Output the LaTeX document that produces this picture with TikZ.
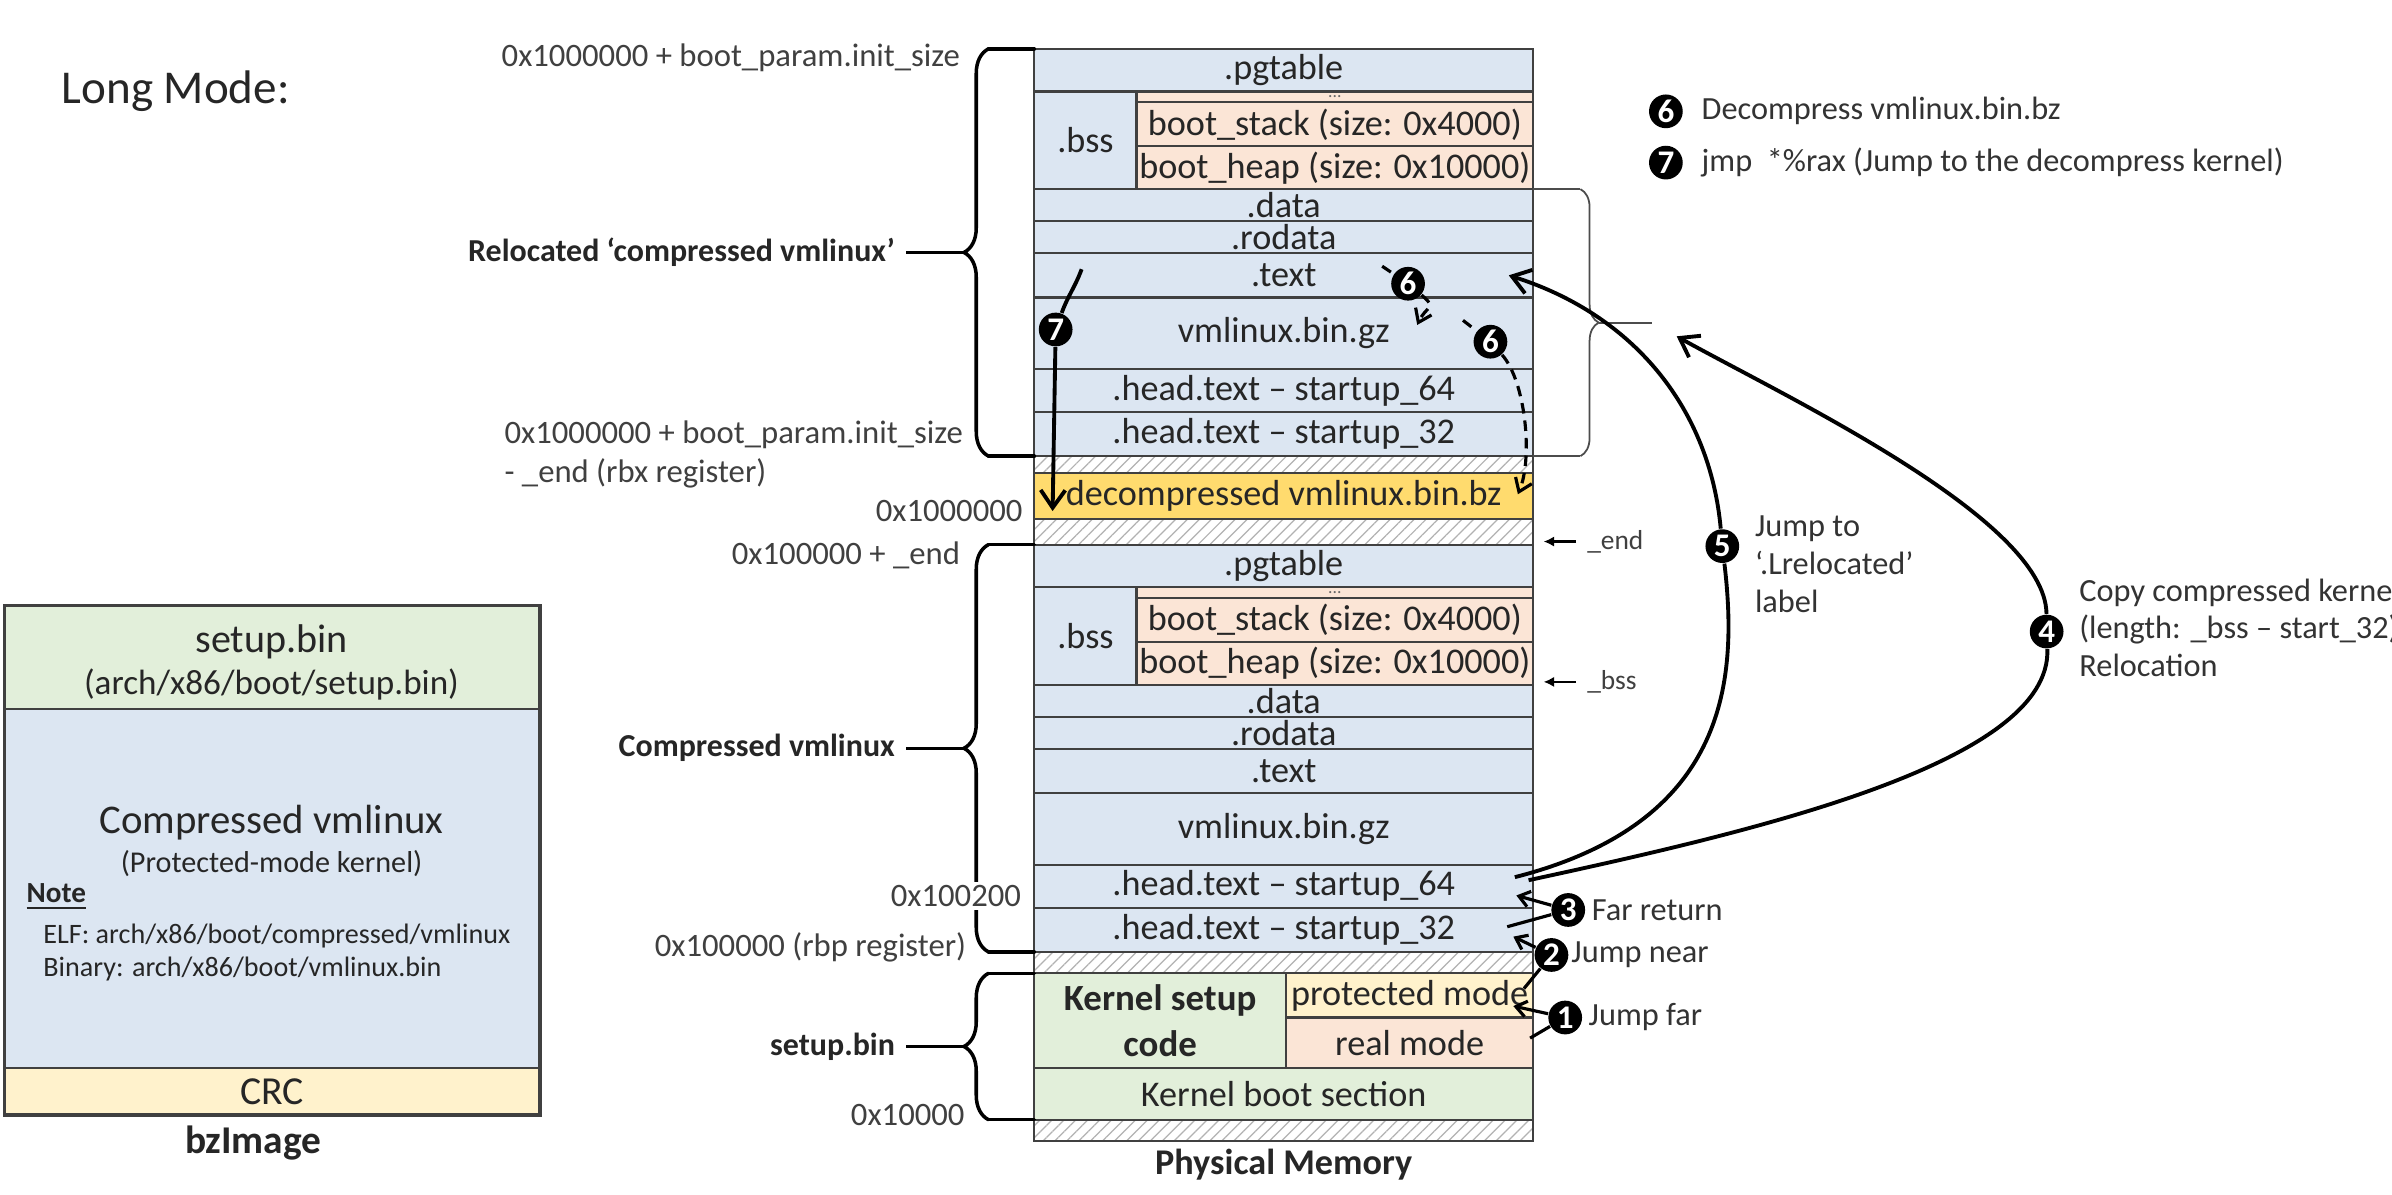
\documentclass[tikz,border=0pt]{standalone}
\usepackage{fontspec}
\setmainfont{Carlito}
\usepackage{tikz}
\usetikzlibrary{positioning,arrows.meta,calc,decorations.pathreplacing,patterns,patterns.meta}

\definecolor{memblue}{RGB}{220,230,242}
\definecolor{mempeach}{RGB}{251,229,214}
\definecolor{memgreen}{RGB}{226,239,218}
\definecolor{memyellow}{RGB}{255,242,204}
\definecolor{decomp}{RGB}{255,219,110}

\newcommand{\fsz}[2]{\fontsize{#1}{#2}\selectfont}
% memory cell: name, x0, y0, x1, y1, style, text
\newcommand{\memcell}[7]{\node[cell, #6, minimum width={((#4)-(#2))*0.015255cm}, minimum height={((#5)-(#3))*0.015255cm}] (#1) at (#2,{#3}) {#7};}

\begin{document}
\begin{tikzpicture}[x=0.015255cm, y=-0.015255cm,
  cell/.style={draw=black!75, line width=0.6pt, inner sep=0pt, outer sep=0pt, anchor=north west, align=center, text=black!85, font=\fsz{10.3}{12.5}},
  hatch/.style={pattern={Lines[angle=45,distance=2.4pt,line width=0.35pt]}, pattern color=black!30},
  addr/.style={anchor=east, inner sep=1pt, text=black!75, font=\fsz{9.3}{11.1}},
  part/.style={anchor=east, inner sep=3pt, text=black!85, font=\bfseries\fsz{9.1}{11}},
  note/.style={inner sep=0pt, align=left, text=black!80, font=\fsz{9.2}{10.8}},
  txt/.style={inner sep=0pt, text=black!85},
  num/.style={circle, fill=black, text=white, inner sep=0pt, minimum size=9.6pt, font=\bfseries\fsz{9.4}{10}},
  brc/.style={decorate, decoration={brace, amplitude=7pt}, line width=1pt, line cap=round},
  arr/.style={line width=1.1pt, -{Straight Barb[length=5pt,width=7pt]}},
  darr/.style={line width=0.9pt, dash pattern=on 3pt off 2pt, -{Straight Barb[length=3.5pt,width=5pt]}},
  sarr/.style={line width=0.9pt, -{Straight Barb[length=3pt,width=4.5pt]}},
  mk/.style={line width=0.6pt, -{Latex[length=3pt,width=3pt]}}]

\fill[white] (0,0) rectangle (1568,782.7);
\useasboundingbox (0,0) rectangle (1568,782.7);

\node[txt, anchor=west, font=\fsz{13.4}{16}] (title) at (40,60) {Long Mode:};

% bzImage
\memcell{bz-setup}{3}{397}{354}{465}{fill=memgreen}{}
\memcell{bz-vm}{3}{465}{354}{700}{fill=memblue}{}
\memcell{bz-crc}{3}{700}{354}{731}{fill=memyellow, font=\fsz{11.3}{13}}{CRC}
\draw[line width=1pt, black!75] (bz-setup.north west) rectangle (bz-crc.south east);
\node[txt, font=\fsz{11.4}{13}] (bz-t1) at (178,421) {setup.bin};
\node[txt, font=\fsz{10}{12}] (bz-t2) at (178,448.6) {(arch/x86/boot/setup.bin)};
\node[txt, font=\fsz{11.6}{14}] (bz-t3) at (178,539.5) {Compressed vmlinux};
\node[txt, font=\fsz{8.6}{10}] (bz-t4) at (178,566) {(Protected-mode kernel)};
\node[txt, anchor=west, font=\bfseries\fsz{8.3}{10}] (bz-note) at (17,588) {\underline{Note}};
\node[txt, anchor=west, font=\fsz{8}{10}] (bz-elf) at (28,613.5) {ELF: arch/x86/boot/compressed/vmlinux};
\node[txt, anchor=west, font=\fsz{8}{10}] (bz-bin) at (28,635) {Binary: arch/x86/boot/vmlinux.bin};
\node[txt, font=\bfseries\fsz{11.2}{13}] (bz-lbl) at (166,749) {bzImage};

% physical memory, both copies of compressed vmlinux
\foreach \o/\p in {0/u,325/l}{
  \memcell{\p-pg}{678}{32+\o}{1005}{60+\o}{fill=memblue}{.pgtable}
  \memcell{\p-bss}{678}{60+\o}{745}{124+\o}{fill=memblue}{.bss}
  \memcell{\p-dots}{745}{60+\o}{1005}{67+\o}{fill=mempeach, text=black!60, font=\fsz{5}{5}}{...}
  \memcell{\p-stack}{745}{67+\o}{1005}{96+\o}{fill=mempeach}{boot\_stack (size: 0x4000)}
  \memcell{\p-heap}{745}{96+\o}{1005}{124+\o}{fill=mempeach}{boot\_heap (size: 0x10000)}
  \memcell{\p-data}{678}{124+\o}{1005}{145+\o}{fill=memblue}{.data}
  \memcell{\p-rod}{678}{145+\o}{1005}{166+\o}{fill=memblue}{.rodata}
  \memcell{\p-text}{678}{166+\o}{1005}{195+\o}{fill=memblue}{.text}
  \memcell{\p-gz}{678}{195+\o}{1005}{242+\o}{fill=memblue}{vmlinux.bin.gz}
  \memcell{\p-s64}{678}{242+\o}{1005}{270+\o}{fill=memblue}{.head.text – startup\_64}
  \memcell{\p-s32}{678}{270+\o}{1005}{299+\o}{fill=memblue}{.head.text – startup\_32}
}
\memcell{h1}{678}{299}{1005}{310}{hatch}{}
\memcell{dec}{678}{310}{1005}{340}{fill=decomp}{decompressed vmlinux.bin.bz}
\memcell{h2}{678}{340}{1005}{357}{hatch}{}
\memcell{h3}{678}{624}{1005}{638}{hatch}{}
\memcell{ksetup}{678}{638}{843}{700}{fill=memgreen, font=\bfseries\fsz{10.5}{13}}{Kernel setup\\code}
\memcell{prot}{843}{638}{1005}{667}{fill=memyellow}{protected mode}
\memcell{real}{843}{667}{1005}{700}{fill=mempeach}{real mode}
\memcell{kboot}{678}{700}{1005}{734}{fill=memgreen}{Kernel boot section}
\memcell{h4}{678}{734}{1005}{748}{hatch}{}
\node[txt, below=2pt of h4, font=\bfseries\fsz{10.3}{12}] (physlbl) {Physical Memory};

% braces on the left
\foreach \ta/\tb/\nm/\txt in {u-pg/u-s32/reloc/{Relocated ‘compressed vmlinux’}, l-pg/l-s32/compv/{Compressed vmlinux}, ksetup/kboot/setupbin/{setup.bin}}{
  \draw[line width=1pt, line cap=round] (\ta.north west) -- ++(-30,0) coordinate (\nm-top);
  \draw[line width=1pt, line cap=round] (\tb.south west) -- ++(-30,0) coordinate (\nm-bot);
  \draw[brc] (\nm-bot) -- (\nm-top);
  \coordinate (\nm-tip) at ($(\nm-top)!0.5!(\nm-bot)+(-16,0)$);
  \node[part] (\nm) at ($(\nm-tip)+(-38,0)$) {\txt};
  \draw[line width=1pt] (\nm) -- (\nm-tip);
}

% thin bracket on the right
\draw[line width=0.5pt, black!70] (u-data.north east) -- ++(31,0) coordinate (rb-top);
\draw[line width=0.5pt, black!70] (u-s32.south east) -- ++(31,0) coordinate (rb-bot);
\draw[line width=0.5pt, black!70, decorate, decoration={brace, amplitude=5.2pt}] (rb-top) -- (rb-bot);
\coordinate (rb-tip) at ($(rb-top)!0.5!(rb-bot)+(12,0)$);
\draw[line width=0.5pt, black!70] (rb-tip) -- ++(35,0) coordinate (rb-end);

% addresses
\node[addr] (a1) at (632,38) {0x1000000 + boot\_param.init\_size};
\node[addr, anchor=west, align=left] (a2) at (328,298) {0x1000000 + boot\_param.init\_size\\- \_end (rbx register)};
\node[addr] (a3) at (673,335) {0x1000000};
\node[addr] (a4) at (632,364) {0x100000 + \_end};
\node[addr, fill=white] (a5) at (672,587.5) {0x100200};
\node[addr] (a6) at (636,621) {0x100000 (rbp register)};
\node[addr] (a7) at (635,731) {0x10000};

% symbols
\node[txt, anchor=west, text=black!75, font=\fsz{7.8}{9}] (endmk) at (1040,355) {\_end};
\node[txt, anchor=west, text=black!75, font=\fsz{7.8}{9}] (bssmk) at (1040,447) {\_bss};
\draw[mk] ([xshift=-3pt]endmk.west) -- ([xshift=3pt]endmk.west -| l-pg.east);
\draw[mk] ([xshift=-3pt]bssmk.west) -- ([xshift=3pt]bssmk.west -| l-heap.east);

% step numbers
\node[num] (n1) at (1026,667) {1};
\node[num] (n2) at (1017,626) {2};
\node[num] (n3) at (1028,596.5) {3};
\node[num] (n4) at (1341.6,414) {4};
\node[num] (n5) at (1129,358) {5};
\node[num] (n6a) at (923,186) {6};
\node[num] (n6b) at (977,224) {6};
\node[num] (n7) at (692,216) {7};
\node[num] (lg6) at (1092,73) {6};
\node[num] (lg7) at (1092,106.6) {7};

\node[note, right=5pt of lg6] (lg6t) {Decompress vmlinux.bin.bz};
\node[note, right=5pt of lg7] (lg7t) {jmp\ \ *\%rax (Jump to the decompress kernel)};
\node[note, anchor=west, font=\fsz{9.2}{10.9}] (t5) at (1150,370) {Jump to\\‘.Lrelocated’\\label};
\node[note, anchor=west, font=\fsz{9.2}{10.7}] (t4) at (1362.6,411.5) {Copy compressed kernel\\(length: \_bss – start\_32)\\Relocation};
\node[note, right=1.5pt of n3] (t3) {Far return};
\node[note, right=0.5pt of n2] (t2) {Jump near};
\node[note, right=1.5pt of n1] (t1) {Jump far};

% jumps
\coordinate (s1) at ($(real.east)+(-2,-3)$);
\coordinate (e1) at ($(prot.east)+(-13,7)$);
\draw[sarr] (s1) -- (n1) -- (e1);
\coordinate (s2) at ($(prot.north east)+(-6,10)$);
\coordinate (e2) at ($(l-s32.east)+(-13,4.5)$);
\draw[sarr] (s2) -- (n2) -- (e2);
\coordinate (s3) at ($(l-s32.east)+(-17,-2)$);
\coordinate (e3) at ($(l-s64.east)+(-11,6)$);
\draw[sarr] (s3) -- (n3) -- (e3);

\coordinate (s4) at ($(l-s64.east)+(-3,-4)$);
\draw[arr, shorten >=8pt] (s4) .. controls (1150,545) and (1345,500) .. (n4) .. controls (1341,340) and (1170,260) .. (rb-end);
\coordinate (s5) at ($(l-s64.east)+(-12,-6)$);
\coordinate (e5) at ($(u-text.east)+(-16,0)$);
\draw[arr] (s5) .. controls (1130,540) and (1140,450) .. (n5) .. controls (1121,270) and (1073,207) .. (e5);

\coordinate (s6a) at ($(u-text.east)+(-99,-6)$);
\coordinate (e6a) at ($(u-gz.north east)+(-76,18)$);
\draw[darr] (s6a) -- (n6a) to[out=-40, in=65, looseness=1.8] (e6a);
\coordinate (s6b) at ($(u-gz.north east)+(-46,15)$);
\coordinate (e6b) at ($(dec.east)+(-10,-1)$);
\draw[darr] (s6b) -- (n6b) .. controls (1000,250) and (1005,300) .. (e6b);

\coordinate (s7) at ($(u-text.west)+(31,-4)$);
\coordinate (e7) at ($(dec.south west)+(12,-5)$);
\draw[arr] (s7) to[out=-110, in=70] (n7) -- (e7);
\end{tikzpicture}
\end{document}
